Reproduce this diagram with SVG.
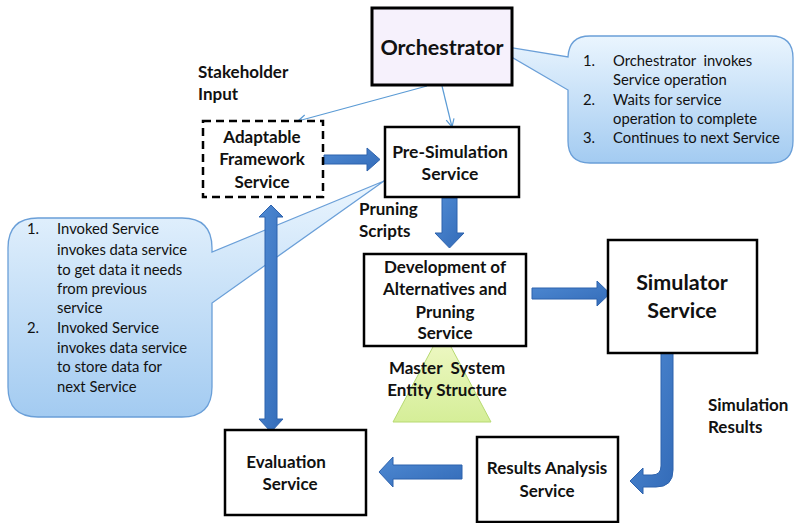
<svg xmlns="http://www.w3.org/2000/svg" width="794" height="523" viewBox="0 0 794 523">
  <defs>
    <style>
      .box { fill: #ffffff; stroke: #000000; stroke-width: 2.5; }
      .lbl { font-family: "Lato", "Liberation Sans", sans-serif; font-weight: bold; font-size: 17px; fill: #111111; }
      .lbl.big { font-size: 21.5px; }
      .lbl.mdl { font-size: 17.5px; }
      .mid { text-anchor: middle; }
      .note { font-family: "Lato", "Liberation Sans", sans-serif; font-size: 14.8px; fill: #111111; }
      .callout { fill: url(#calloutFill); stroke: #6a9fd8; stroke-width: 1.3; }
      .flow { fill: url(#flowFill); stroke: #2d62ad; stroke-width: 1; }
      .thin { fill: none; stroke: #5b9bd5; stroke-width: 1.2; }
    </style>
    <linearGradient id="calloutFill" x1="0" y1="0" x2="0" y2="1">
      <stop offset="0" stop-color="#eaf5fe"/>
      <stop offset="1" stop-color="#a3cbf1"/>
    </linearGradient>
    <linearGradient id="flowFill" x1="0" y1="0" x2="1" y2="1">
      <stop offset="0" stop-color="#4f8ad3"/>
      <stop offset="1" stop-color="#336bb8"/>
    </linearGradient>
    <linearGradient id="mesFill" x1="0" y1="0" x2="0" y2="1">
      <stop offset="0" stop-color="#f1f9c9"/>
      <stop offset="1" stop-color="#d5ee98"/>
    </linearGradient>
    <marker id="openHead" viewBox="0 0 10 10" refX="9" refY="5" markerWidth="10" markerHeight="10" markerUnits="userSpaceOnUse" orient="auto">
      <path d="M1,1 L9,5 L1,9" fill="none" stroke="#5b9bd5" stroke-width="1.2"/>
    </marker>
  </defs>

  <rect width="794" height="523" fill="#ffffff"/>

  <!-- call-out notes -->
  <g id="note-orchestrator">
    <path class="callout" d="M590,36 H771 Q793,36 793,58 V141 Q793,163 771,163 H590 Q568,163 568,141 V90 L489,44 L568,57 Q569,36 590,36 Z"/>
    <text class="note" x="583" y="66">1.</text>
    <text class="note" x="613" y="66" xml:space="preserve">Orchestrator  invokes</text>
    <text class="note" x="613" y="85">Service operation</text>
    <text class="note" x="583" y="105">2.</text>
    <text class="note" x="613" y="105">Waits for service</text>
    <text class="note" x="613" y="124">operation to complete</text>
    <text class="note" x="583" y="143">3.</text>
    <text class="note" x="613" y="143">Continues to next Service</text>
  </g>

  <g id="note-data">
    <path class="callout" d="M38,218 H182 Q212,218 212,248 V252 L384,181 L212,303 V387 Q212,417 182,417 H38 Q8,417 8,387 V248 Q8,218 38,218 Z"/>
    <text class="note" x="27" y="234">1.</text>
    <text class="note" x="57" y="234">Invoked Service</text>
    <text class="note" x="57" y="255">invokes data service</text>
    <text class="note" x="57" y="275">to get data it needs</text>
    <text class="note" x="57" y="294">from previous</text>
    <text class="note" x="57" y="313">service</text>
    <text class="note" x="27" y="333">2.</text>
    <text class="note" x="57" y="333">Invoked Service</text>
    <text class="note" x="57" y="353">invokes data service</text>
    <text class="note" x="57" y="372">to store data for</text>
    <text class="note" x="57" y="392">next Service</text>
  </g>

  <!-- master system entity structure -->
  <g id="mes">
    <polygon points="442,330 491,422 393,422" fill="url(#mesFill)" stroke="#b7da72" stroke-width="1"/>
  </g>

  <!-- connectors -->
  <g id="connectors">
    <line class="thin" x1="427" y1="86" x2="298" y2="121" marker-end="url(#openHead)"/>
    <line class="thin" x1="442" y1="86" x2="452" y2="127" marker-end="url(#openHead)"/>
    <polygon class="flow" points="324,155 367,155 367,148 380,159.5 367,171 367,164 324,164"/>
    <polygon class="flow" points="442,198 457,198 457,233 464,233 449.5,248 435,233 442,233"/>
    <polygon class="flow" points="532,288 597,288 597,281 610,293.5 597,306 597,299 532,299"/>
    <polygon class="flow" points="462,465 393,465 393,457 379,472 393,487 393,479 462,479"/>
    <polygon class="flow" points="271,205 283,217 277,217 277,419 283,419 271,432 259,419 265,419 265,217 259,217"/>
    <path class="flow" d="M661,353 H673 V470 Q673,487 656,487 H643 V494 L630,481 L643,468 V475 H652 Q661,475 661,466 Z"/>
  </g>

  <!-- services -->
  <g id="orchestrator">
    <rect x="372" y="8" width="140" height="77" fill="#f6f1fc" stroke="#000000" stroke-width="3"/>
    <text class="lbl big mid" x="442" y="55">Orchestrator</text>
  </g>

  <g id="stakeholder-input">
    <text class="lbl" x="198" y="78">Stakeholder</text>
    <text class="lbl" x="198" y="100">Input</text>
  </g>

  <g id="adaptable-framework">
    <rect x="203" y="121" width="120" height="76" fill="#ffffff" stroke="#000000" stroke-width="2.5" stroke-dasharray="8 5"/>
    <text class="lbl mid" x="262" y="143">Adaptable</text>
    <text class="lbl mid" x="262" y="165">Framework</text>
    <text class="lbl mid" x="262" y="188">Service</text>
  </g>

  <g id="pre-simulation">
    <rect class="box" x="385" y="127" width="134" height="70"/>
    <text class="lbl mdl mid" x="450" y="158">Pre-Simulation</text>
    <text class="lbl mdl mid" x="450" y="180">Service</text>
  </g>

  <g id="pruning-scripts">
    <text class="lbl" x="359" y="215">Pruning</text>
    <text class="lbl" x="359" y="237">Scripts</text>
  </g>

  <g id="development">
    <rect class="box" x="364" y="254" width="162" height="92"/>
    <text class="lbl mid" x="445" y="273">Development of</text>
    <text class="lbl mid" x="445" y="295">Alternatives and</text>
    <text class="lbl mid" x="445" y="318">Pruning</text>
    <text class="lbl mid" x="445" y="339">Service</text>
  </g>

  <g id="mes-label">
    <text class="lbl mid" x="447" y="374" xml:space="preserve">Master  System</text>
    <text class="lbl mid" x="447" y="396">Entity Structure</text>
  </g>

  <g id="simulator">
    <rect class="box" x="608" y="240" width="149" height="113"/>
    <text class="lbl big mid" x="682" y="290">Simulator</text>
    <text class="lbl big mid" x="682" y="318">Service</text>
  </g>

  <g id="simulation-results">
    <text class="lbl" x="708" y="411">Simulation</text>
    <text class="lbl" x="708" y="433">Results</text>
  </g>

  <g id="results-analysis">
    <rect class="box" x="477" y="437" width="141" height="85"/>
    <text class="lbl mid" x="547" y="474">Results Analysis</text>
    <text class="lbl mid" x="547" y="497">Service</text>
  </g>

  <g id="evaluation">
    <rect class="box" x="225" y="430" width="141" height="85"/>
    <text class="lbl mid" x="286" y="468">Evaluation</text>
    <text class="lbl mid" x="290" y="490">Service</text>
  </g>
</svg>
